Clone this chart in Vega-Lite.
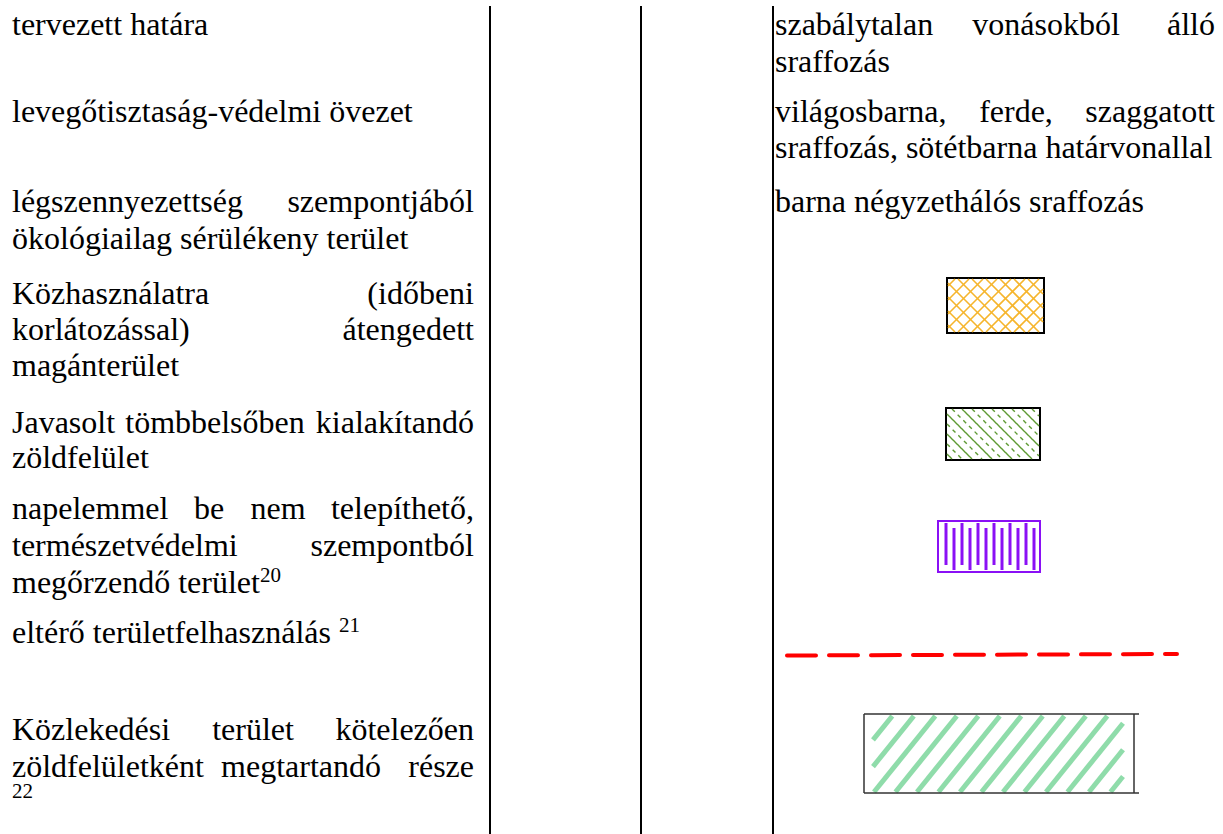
{
  "$schema": "https://vega.github.io/schema/vega-lite/v6.json",
  "width": 1223,
  "height": 834,
  "padding": 0,
  "autosize": {"type": "none"},
  "background": "white",
  "config": {"view": {"stroke": null}},
  "datasets": {
    "texts": [
      {"t": "tervezett határa", "x": 12, "y": 35, "a": "left", "s": "n"},
      {"t": "levegőtisztaság-védelmi övezet", "x": 12, "y": 122, "a": "left", "s": "n"},
      {"t": "légszennyezettség", "x": 12, "y": 212, "a": "left", "s": "n"},
      {"t": "szempontjából", "x": 474, "y": 212, "a": "right", "s": "n"},
      {"t": "ökológiailag sérülékeny terület", "x": 12, "y": 249, "a": "left", "s": "n"},
      {"t": "Közhasználatra", "x": 12, "y": 304, "a": "left", "s": "n"},
      {"t": "(időbeni", "x": 474, "y": 304, "a": "right", "s": "n"},
      {"t": "korlátozással)", "x": 12, "y": 340, "a": "left", "s": "n"},
      {"t": "átengedett", "x": 474, "y": 340, "a": "right", "s": "n"},
      {"t": "magánterület", "x": 12, "y": 376, "a": "left", "s": "n"},
      {"t": "Javasolt", "x": 12, "y": 433, "a": "left", "s": "n"},
      {"t": "tömbbelsőben", "x": 215, "y": 433, "a": "center", "s": "n"},
      {"t": "kialakítandó", "x": 474, "y": 433, "a": "right", "s": "n"},
      {"t": "zöldfelület", "x": 12, "y": 468, "a": "left", "s": "n"},
      {"t": "napelemmel", "x": 12, "y": 519, "a": "left", "s": "n"},
      {"t": "be", "x": 209, "y": 519, "a": "center", "s": "n"},
      {"t": "nem", "x": 278, "y": 519, "a": "center", "s": "n"},
      {"t": "telepíthető,", "x": 474, "y": 519, "a": "right", "s": "n"},
      {"t": "természetvédelmi", "x": 12, "y": 556, "a": "left", "s": "n"},
      {"t": "szempontból", "x": 474, "y": 556, "a": "right", "s": "n"},
      {"t": "megőrzendő terület", "x": 12, "y": 593, "a": "left", "s": "n"},
      {"t": "20", "x": 260, "y": 582, "a": "left", "s": "sup"},
      {"t": "eltérő területfelhasználás", "x": 12, "y": 643, "a": "left", "s": "n"},
      {"t": "21", "x": 339, "y": 632, "a": "left", "s": "sup"},
      {"t": "Közlekedési", "x": 12, "y": 740, "a": "left", "s": "n"},
      {"t": "terület", "x": 253, "y": 740, "a": "center", "s": "n"},
      {"t": "kötelezően", "x": 474, "y": 740, "a": "right", "s": "n"},
      {"t": "zöldfelületként", "x": 12, "y": 777, "a": "left", "s": "n"},
      {"t": "megtartandó", "x": 301, "y": 777, "a": "center", "s": "n"},
      {"t": "része", "x": 474, "y": 777, "a": "right", "s": "n"},
      {"t": "22", "x": 12, "y": 798, "a": "left", "s": "sup"},
      {"t": "szabálytalan", "x": 775, "y": 35, "a": "left", "s": "n"},
      {"t": "vonásokból", "x": 1046, "y": 35, "a": "center", "s": "n"},
      {"t": "álló", "x": 1215, "y": 35, "a": "right", "s": "n"},
      {"t": "sraffozás", "x": 775, "y": 72, "a": "left", "s": "n"},
      {"t": "világosbarna,", "x": 775, "y": 122, "a": "left", "s": "n"},
      {"t": "ferde,", "x": 1016, "y": 122, "a": "center", "s": "n"},
      {"t": "szaggatott", "x": 1215, "y": 122, "a": "right", "s": "n"},
      {"t": "sraffozás, sötétbarna határvonallal", "x": 775, "y": 158, "a": "left", "s": "n"},
      {"t": "barna négyzethálós sraffozás", "x": 775, "y": 212, "a": "left", "s": "n"}
    ],
    "columns": [
      {"x": 490, "y": 6, "y2": 834},
      {"x": 641, "y": 6, "y2": 834},
      {"x": 773, "y": 6, "y2": 834}
    ],
    "swatches": [
      {"id": "orange", "x": 947, "x2": 1044, "y": 278, "y2": 333},
      {"id": "green", "x": 946, "x2": 1040, "y": 408, "y2": 460},
      {"id": "purple", "x": 938, "x2": 1040, "y": 521, "y2": 572}
    ],
    "cross": [
      {"x": 948, "y": 286, "x2": 955, "y2": 279},
      {"x": 948, "y": 300, "x2": 969, "y2": 279},
      {"x": 948, "y": 314, "x2": 983, "y2": 279},
      {"x": 948, "y": 328, "x2": 997, "y2": 279},
      {"x": 958, "y": 332, "x2": 1011, "y2": 279},
      {"x": 972, "y": 332, "x2": 1025, "y2": 279},
      {"x": 986, "y": 332, "x2": 1039, "y2": 279},
      {"x": 1000, "y": 332, "x2": 1043, "y2": 289},
      {"x": 1014, "y": 332, "x2": 1043, "y2": 303},
      {"x": 1028, "y": 332, "x2": 1043, "y2": 317},
      {"x": 948, "y": 325, "x2": 955, "y2": 332},
      {"x": 948, "y": 311, "x2": 969, "y2": 332},
      {"x": 948, "y": 297, "x2": 983, "y2": 332},
      {"x": 948, "y": 283, "x2": 997, "y2": 332},
      {"x": 958, "y": 279, "x2": 1011, "y2": 332},
      {"x": 972, "y": 279, "x2": 1025, "y2": 332},
      {"x": 986, "y": 279, "x2": 1039, "y2": 332},
      {"x": 1000, "y": 279, "x2": 1043, "y2": 322},
      {"x": 1014, "y": 279, "x2": 1043, "y2": 308},
      {"x": 1028, "y": 279, "x2": 1043, "y2": 294}
    ],
    "greenhatch": [
      {"x": 947, "y": 454, "x2": 952, "y2": 459, "k": "solid"},
      {"x": 947, "y": 444, "x2": 962, "y2": 459, "k": "dashed"},
      {"x": 947, "y": 434, "x2": 972, "y2": 459, "k": "solid"},
      {"x": 947, "y": 424, "x2": 982, "y2": 459, "k": "dashed"},
      {"x": 947, "y": 414, "x2": 992, "y2": 459, "k": "solid"},
      {"x": 952, "y": 409, "x2": 1002, "y2": 459, "k": "dashed"},
      {"x": 962, "y": 409, "x2": 1012, "y2": 459, "k": "solid"},
      {"x": 972, "y": 409, "x2": 1022, "y2": 459, "k": "dashed"},
      {"x": 982, "y": 409, "x2": 1032, "y2": 459, "k": "solid"},
      {"x": 992, "y": 409, "x2": 1039, "y2": 456, "k": "dashed"},
      {"x": 1002, "y": 409, "x2": 1039, "y2": 446, "k": "solid"},
      {"x": 1012, "y": 409, "x2": 1039, "y2": 436, "k": "dashed"},
      {"x": 1022, "y": 409, "x2": 1039, "y2": 426, "k": "solid"},
      {"x": 1032, "y": 409, "x2": 1039, "y2": 416, "k": "dashed"}
    ],
    "purplebars": [
      {"x": 946, "y": 523, "y2": 565},
      {"x": 954, "y": 528, "y2": 570},
      {"x": 962, "y": 523, "y2": 565},
      {"x": 970, "y": 528, "y2": 570},
      {"x": 978, "y": 523, "y2": 565},
      {"x": 986, "y": 528, "y2": 570},
      {"x": 994, "y": 523, "y2": 565},
      {"x": 1002, "y": 528, "y2": 570},
      {"x": 1010, "y": 523, "y2": 565},
      {"x": 1018, "y": 528, "y2": 570},
      {"x": 1026, "y": 523, "y2": 565},
      {"x": 1034, "y": 528, "y2": 570}
    ],
    "redline": [
      {"x": 787, "y": 655.5, "x2": 1177, "y2": 654}
    ],
    "lighthatch": [
      {"x": 873, "y": 739.9, "x2": 892.3, "y2": 716},
      {"x": 873, "y": 766.6, "x2": 913.8, "y2": 716},
      {"x": 874, "y": 792, "x2": 935.3, "y2": 716},
      {"x": 895.5, "y": 792, "x2": 956.8, "y2": 716},
      {"x": 917, "y": 792, "x2": 978.3, "y2": 716},
      {"x": 938.5, "y": 792, "x2": 999.8, "y2": 716},
      {"x": 960, "y": 792, "x2": 1021.3, "y2": 716},
      {"x": 981.5, "y": 792, "x2": 1042.8, "y2": 716},
      {"x": 1003, "y": 792, "x2": 1064.3, "y2": 716},
      {"x": 1024.5, "y": 792, "x2": 1085.8, "y2": 716},
      {"x": 1046, "y": 792, "x2": 1107.3, "y2": 716},
      {"x": 1067.5, "y": 792, "x2": 1123, "y2": 723.2},
      {"x": 1089, "y": 792, "x2": 1123, "y2": 749.8},
      {"x": 1110.5, "y": 792, "x2": 1123, "y2": 776.5}
    ],
    "frame": [
      {"x": 864, "y": 714, "x2": 1139, "y2": 714},
      {"x": 864, "y": 793, "x2": 1139, "y2": 793},
      {"x": 864, "y": 714, "x2": 864, "y2": 793},
      {"x": 1134, "y": 714, "x2": 1134, "y2": 793}
    ]
  },
  "encoding": {
    "x": {"field": "x", "type": "quantitative", "scale": {"domain": [0, 1223], "nice": false, "zero": false}, "axis": null},
    "y": {"field": "y", "type": "quantitative", "scale": {"domain": [0, 834], "nice": false, "zero": false, "reverse": true}, "axis": null}
  },
  "layer": [
    {
      "data": {"name": "columns"},
      "mark": {"type": "rule", "color": "black", "strokeWidth": 2},
      "encoding": {"y2": {"field": "y2"}}
    },
    {
      "data": {"name": "swatches"},
      "mark": {"type": "rect", "fill": "white", "strokeWidth": 2},
      "encoding": {
        "x2": {"field": "x2"},
        "y2": {"field": "y2"},
        "stroke": {"field": "id", "type": "nominal", "scale": {"domain": ["orange", "green", "purple"], "range": ["#000000", "#000000", "#8a10f5"]}, "legend": null}
      }
    },
    {
      "data": {"name": "cross"},
      "mark": {"type": "rule", "color": "#f6b52c", "strokeWidth": 1.6},
      "encoding": {"x2": {"field": "x2"}, "y2": {"field": "y2"}}
    },
    {
      "data": {"name": "greenhatch"},
      "mark": {"type": "rule", "color": "#5e9a33", "strokeWidth": 1.4},
      "encoding": {
        "x2": {"field": "x2"},
        "y2": {"field": "y2"},
        "strokeDash": {"field": "k", "type": "nominal", "scale": {"domain": ["solid", "dashed"], "range": [[1, 0], [4, 4]]}, "legend": null}
      }
    },
    {
      "data": {"name": "purplebars"},
      "mark": {"type": "rule", "color": "#8a10f5", "strokeWidth": 3},
      "encoding": {"y2": {"field": "y2"}}
    },
    {
      "data": {"name": "redline"},
      "mark": {"type": "rule", "color": "#ff0000", "strokeWidth": 4, "strokeDash": [29, 13], "strokeCap": "round"},
      "encoding": {"x2": {"field": "x2"}, "y2": {"field": "y2"}}
    },
    {
      "data": {"name": "lighthatch"},
      "mark": {"type": "rule", "color": "#8fdcaa", "strokeWidth": 5},
      "encoding": {"x2": {"field": "x2"}, "y2": {"field": "y2"}}
    },
    {
      "data": {"name": "frame"},
      "mark": {"type": "rule", "color": "#333333", "strokeWidth": 1.5},
      "encoding": {"x2": {"field": "x2"}, "y2": {"field": "y2"}}
    },
    {
      "data": {"name": "texts"},
      "transform": [{"filter": "datum.s == 'n' && datum.a == 'left'"}],
      "mark": {"type": "text", "font": "Liberation Serif", "fontSize": 32, "baseline": "alphabetic", "align": "left", "color": "black"},
      "encoding": {"text": {"field": "t"}}
    },
    {
      "data": {"name": "texts"},
      "transform": [{"filter": "datum.s == 'n' && datum.a == 'center'"}],
      "mark": {"type": "text", "font": "Liberation Serif", "fontSize": 32, "baseline": "alphabetic", "align": "center", "color": "black"},
      "encoding": {"text": {"field": "t"}}
    },
    {
      "data": {"name": "texts"},
      "transform": [{"filter": "datum.s == 'n' && datum.a == 'right'"}],
      "mark": {"type": "text", "font": "Liberation Serif", "fontSize": 32, "baseline": "alphabetic", "align": "right", "color": "black"},
      "encoding": {"text": {"field": "t"}}
    },
    {
      "data": {"name": "texts"},
      "transform": [{"filter": "datum.s == 'sup'"}],
      "mark": {"type": "text", "font": "Liberation Serif", "fontSize": 21, "baseline": "alphabetic", "align": "left", "color": "black"},
      "encoding": {"text": {"field": "t"}}
    }
  ]
}
